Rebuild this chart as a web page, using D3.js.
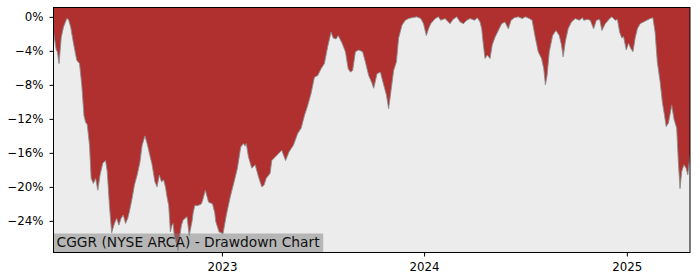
<!DOCTYPE html>
<html>
<head>
<meta charset="utf-8">
<script src="https://cdn.jsdelivr.net/npm/d3@7"></script>
<style>
  html, body { margin: 0; padding: 0; background: #fff; }
  svg { display: block; font-family: "DejaVu Sans", sans-serif; }
</style>
</head>
<body>
<svg id="chart" width="700" height="280"></svg>
<script>
// drawdown of CGGR, in percent
const dates = [
  "2022-03-03", "2022-03-08", "2022-03-10", "2022-03-13", "2022-03-17", "2022-03-21", "2022-03-27", "2022-03-30",
  "2022-04-03", "2022-04-08", "2022-04-14", "2022-04-19", "2022-04-23", "2022-04-27", "2022-04-30", "2022-05-03",
  "2022-05-07", "2022-05-10", "2022-05-14", "2022-05-18", "2022-05-22", "2022-05-26", "2022-05-31", "2022-06-05",
  "2022-06-08", "2022-06-12", "2022-06-16", "2022-06-21", "2022-06-25", "2022-06-29", "2022-07-03", "2022-07-07",
  "2022-07-11", "2022-07-15", "2022-07-18", "2022-07-23", "2022-07-27", "2022-08-01", "2022-08-06", "2022-08-10",
  "2022-08-15", "2022-08-19", "2022-08-24", "2022-08-28", "2022-09-02", "2022-09-06", "2022-09-10", "2022-09-14",
  "2022-09-18", "2022-09-21", "2022-09-24", "2022-09-27", "2022-09-30", "2022-10-03", "2022-10-05", "2022-10-07",
  "2022-10-13", "2022-10-14", "2022-10-17", "2022-10-20", "2022-10-23", "2022-10-30", "2022-11-03", "2022-11-08",
  "2022-11-10", "2022-11-13", "2022-11-19", "2022-11-25", "2022-11-28", "2022-12-02", "2022-12-08", "2022-12-15",
  "2022-12-19", "2022-12-21", "2022-12-27",
  "2023-01-03", "2023-01-09", "2023-01-16", "2023-01-23", "2023-01-29", "2023-02-04", "2023-02-09", "2023-02-12",
  "2023-02-14", "2023-02-18", "2023-02-24", "2023-03-02", "2023-03-08", "2023-03-14", "2023-03-18", "2023-03-22",
  "2023-03-29", "2023-04-01", "2023-04-10", "2023-04-19", "2023-04-26", "2023-05-02", "2023-05-10", "2023-05-18",
  "2023-05-24", "2023-05-30", "2023-06-05", "2023-06-11", "2023-06-17", "2023-06-23", "2023-06-29", "2023-07-05",
  "2023-07-11", "2023-07-17", "2023-07-21", "2023-07-26", "2023-07-30", "2023-08-06", "2023-08-12", "2023-08-17",
  "2023-08-21", "2023-08-25", "2023-08-30", "2023-09-05", "2023-09-12", "2023-09-17", "2023-09-23", "2023-09-29",
  "2023-10-02", "2023-10-08", "2023-10-14", "2023-10-20", "2023-10-25", "2023-10-29", "2023-11-02", "2023-11-07",
  "2023-11-12", "2023-11-16", "2023-11-22", "2023-11-28", "2023-12-04", "2023-12-10", "2023-12-19", "2023-12-26",
  "2023-12-31",
  "2024-01-05", "2024-01-09", "2024-01-13", "2024-01-21", "2024-01-27", "2024-01-31", "2024-02-08", "2024-02-12",
  "2024-02-17", "2024-02-22", "2024-02-29", "2024-03-06", "2024-03-12", "2024-03-18", "2024-03-24", "2024-04-01",
  "2024-04-06", "2024-04-11", "2024-04-14", "2024-04-17", "2024-04-20", "2024-04-24", "2024-04-29", "2024-05-03",
  "2024-05-08", "2024-05-14", "2024-05-20", "2024-05-26", "2024-06-01", "2024-06-06", "2024-06-12", "2024-06-19",
  "2024-06-26", "2024-07-02", "2024-07-09", "2024-07-14", "2024-07-19", "2024-07-25", "2024-07-31", "2024-08-04",
  "2024-08-07", "2024-08-10", "2024-08-14", "2024-08-20", "2024-08-26", "2024-09-01", "2024-09-05", "2024-09-08",
  "2024-09-12", "2024-09-17", "2024-09-23", "2024-09-30", "2024-10-07", "2024-10-13", "2024-10-15", "2024-10-22",
  "2024-10-27", "2024-11-02", "2024-11-07", "2024-11-13", "2024-11-17", "2024-11-23", "2024-12-01", "2024-12-05",
  "2024-12-11", "2024-12-15", "2024-12-19", "2024-12-23", "2024-12-26", "2024-12-31",
  "2025-01-04", "2025-01-08", "2025-01-12", "2025-01-16", "2025-01-20", "2025-01-25", "2025-01-31", "2025-02-06",
  "2025-02-12", "2025-02-17", "2025-02-21", "2025-02-25", "2025-03-02", "2025-03-06", "2025-03-10", "2025-03-13",
  "2025-03-17", "2025-03-23", "2025-03-27", "2025-04-01", "2025-04-04", "2025-04-07", "2025-04-10", "2025-04-14",
  "2025-04-18", "2025-04-21", "2025-04-25"
];

const drawdown = [
  -1.8, -3.9, -4.1, -5.5, -2.4, -1.2, -0.2, -0.3,
  -1.2, -3.1, -5.1, -5.5, -8.0, -11.6, -12.4, -12.7,
  -15.1, -19.0, -19.6, -19.0, -20.4, -18.6, -17.2, -16.9,
  -18.2, -22.2, -25.4, -24.3, -23.7, -24.5, -23.7, -23.3,
  -24.3, -23.7, -22.9, -21.3, -19.8, -18.6, -17.1, -15.1,
  -14.0, -14.9, -16.3, -17.4, -19.4, -20.0, -18.6, -19.4,
  -19.2, -20.0, -21.2, -22.2, -25.3, -24.5, -24.3, -25.7,
  -27.2, -27.5, -25.7, -24.5, -23.9, -23.5, -25.7, -24.1,
  -23.1, -22.2, -22.2, -22.0, -21.4, -20.4, -21.8, -22.0,
  -23.0, -24.1, -25.3,
  -25.5, -23.3, -21.2, -19.4, -17.8, -15.3, -14.9, -15.2,
  -14.9, -16.5, -17.8, -17.4, -18.8, -20.0, -19.8, -19.0,
  -18.4, -16.9, -16.3, -15.7, -16.9, -15.9, -15.1, -13.7,
  -13.1, -11.6, -10.4, -9.0, -7.1, -6.9, -6.1, -5.5,
  -3.5, -1.8, -2.5, -2.6, -2.2, -3.1, -4.1, -6.1,
  -6.5, -6.3, -4.1, -3.9, -4.1, -5.3, -6.9, -7.8,
  -8.4, -6.7, -6.5, -8.0, -9.2, -10.8, -8.8, -6.3,
  -5.3, -2.5, -1.0, -0.4, -0.2, -0.1, 0, -0.2,
  -0.8,
  -2.2, -1.4, -0.8, -0.2, 0, -0.4, -0.2, -0.5,
  -0.8, -0.3, 0, -0.6, -0.8, -0.4, -0.2, -0.4,
  -0.1, -0.6, -1.4, -3.3, -4.9, -4.5, -4.9, -3.3,
  -2.4, -1.6, -0.8, -0.6, -1.4, -0.4, -0.1, 0,
  -0.2, 0, -0.2, -0.4, -2.2, -4.1, -4.9, -6.1,
  -8.0, -6.9, -4.1, -2.2, -1.6, -2.2, -3.3, -4.7,
  -2.9, -1.4, -0.6, -0.2, -0.4, -0.1, -0.4, -0.3,
  -0.4, -1.4, -0.4, -0.3, -1.6, -0.8, -0.2, 0,
  -0.4, -0.3, -1.8, -2.5, -2.3, -3.9,
  -3.1, -3.7, -4.1, -2.5, -1.4, -0.8, -0.6, -0.4,
  -0.2, -0.1, -1.8, -5.3, -7.6, -10.0, -11.6, -12.9,
  -12.5, -10.4, -12.0, -13.1, -17.1, -20.2, -18.2, -17.4,
  -17.8, -18.6, -16.3
];

const yTicks = [0, -4, -8, -12, -16, -20, -24];
const xTickYears = [2023, 2024, 2025];
const chartLabel = "CGGR (NYSE ARCA) - Drawdown Chart";

const width = 700;
const height = 280;
const margin = { top: 7.5, right: 10, bottom: 27.5, left: 53.5 };
const innerW = width - margin.left - margin.right;
const innerH = height - margin.top - margin.bottom;

const parse = d3.timeParse("%Y-%m-%d");
const data = dates.map((d, i) => ({ date: parse(d), value: drawdown[i] }));

const svg = d3.select("#chart");
const root = svg.append("g").attr("transform", `translate(${margin.left},${margin.top})`);

const x = d3.scaleTime()
  .domain(d3.extent(data, (d) => d.date))
  .range([0, innerW]);

const y = d3.scaleLinear()
  .domain([-27.72, 1.1])
  .range([innerH, 0]);

svg.append("defs").append("clipPath").attr("id", "plot-clip")
  .append("rect").attr("width", innerW).attr("height", innerH);

// plot background
root.append("rect")
  .attr("width", innerW)
  .attr("height", innerH)
  .attr("fill", "#ececec");

const plot = root.append("g").attr("clip-path", "url(#plot-clip)");

// red from the top of the axes down to the drawdown line
const area = d3.area()
  .x((d) => x(d.date))
  .y0(0)
  .y1((d) => y(d.value));

plot.append("path")
  .datum(data)
  .attr("d", area)
  .attr("fill", "#b03030");

const line = d3.line()
  .x((d) => x(d.date))
  .y((d) => y(d.value));

plot.append("path")
  .datum(data)
  .attr("d", line)
  .attr("fill", "none")
  .attr("stroke", "#8c8c8c")
  .attr("stroke-width", 0.9);

// label box at the lower left
const labelG = root.append("g");
const labelBox = labelG.append("rect")
  .attr("fill", "#808080")
  .attr("fill-opacity", 0.5);
const labelText = labelG.append("text")
  .attr("x", 3)
  .attr("y", innerH - 5.5)
  .attr("font-size", 13.8)
  .attr("fill", "#111")
  .text(chartLabel);
const bb = labelText.node().getBBox();
labelBox
  .attr("x", 0)
  .attr("y", innerH - 19)
  .attr("width", bb.width + 6)
  .attr("height", 19);

// axes
const gy = root.append("g")
  .call(d3.axisLeft(y)
    .tickValues(yTicks)
    .tickSize(4)
    .tickPadding(6)
    .tickFormat((d) => (d === 0 ? "0%" : "\u2212" + Math.abs(d) + "%")));

const gx = root.append("g")
  .attr("transform", `translate(0,${innerH})`)
  .call(d3.axisBottom(x)
    .tickValues(xTickYears.map((yr) => new Date(yr, 0, 1)))
    .tickSize(4)
    .tickPadding(6)
    .tickFormat(d3.timeFormat("%Y")));

[gx, gy].forEach((g) => {
  g.select(".domain").remove();
  g.selectAll("line").attr("stroke", "#000");
  g.selectAll("text")
    .attr("fill", "#000")
    .style("font-family", "DejaVu Sans, sans-serif")
    .style("font-size", "11.8px");
});

// frame
root.append("rect")
  .attr("width", innerW)
  .attr("height", innerH)
  .attr("fill", "none")
  .attr("stroke", "#000")
  .attr("stroke-width", 1);
</script>
</body>
</html>
